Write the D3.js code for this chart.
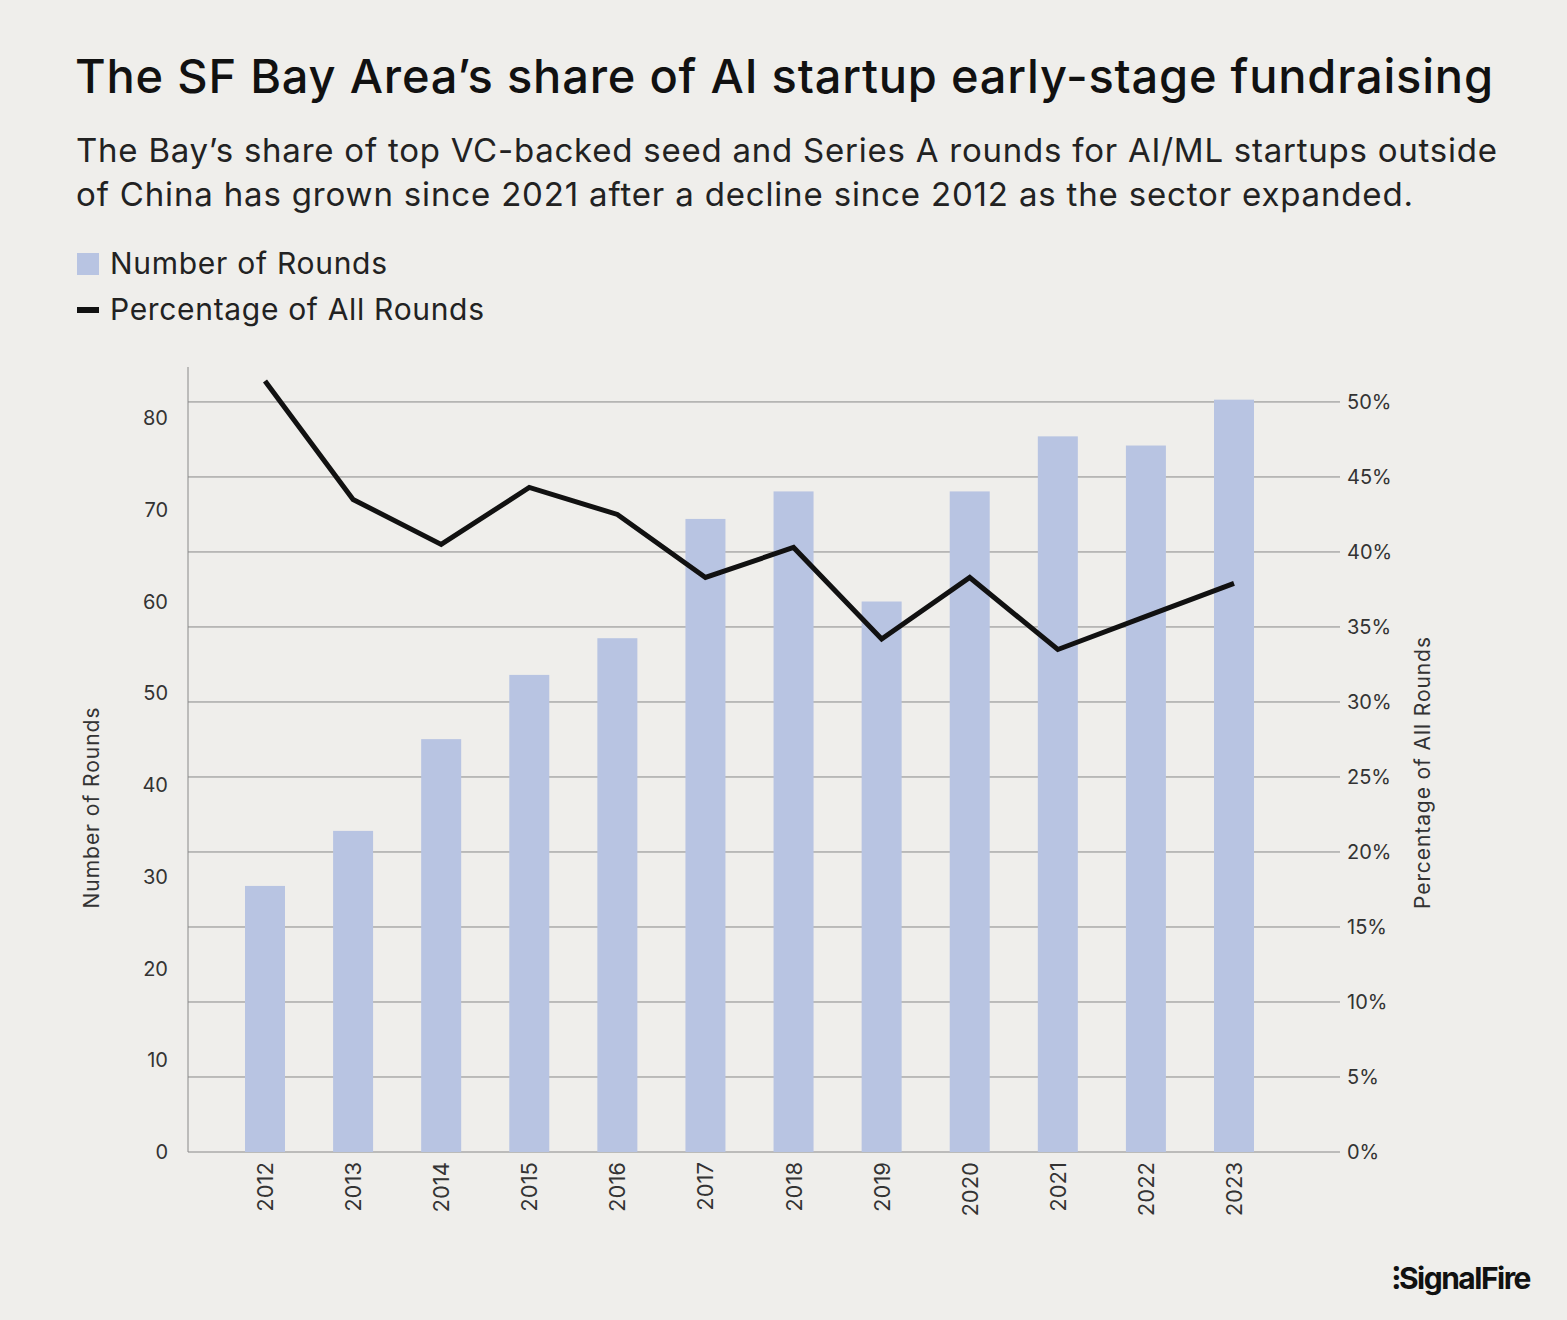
<!DOCTYPE html>
<html><head><meta charset="utf-8">
<script src="https://cdn.jsdelivr.net/npm/d3@7"></script>
<style>body{margin:0;background:#efeeeb;font-family:Inter,"Noto Sans",sans-serif}</style>
</head><body><svg id="c" width="1567" height="1320"></svg>
<script>
const years=["2012","2013","2014","2015","2016","2017","2018","2019","2020","2021","2022","2023"];
const rounds=[29,35,45,52,56,69,72,60,72,78,77,82];
const pct=[51.4,43.5,40.5,44.3,42.5,38.3,40.3,34.2,38.3,33.5,35.7,37.9];
const leftTicks=[0,10,20,30,40,50,60,70,80];
const rightTicks=[0,5,10,15,20,25,30,35,40,45,50];

const svg=d3.select("#c");
svg.append("rect").attr("width",1567).attr("height",1320).attr("fill","#efeeeb");
svg.append("text").attr("x",75).attr("y",93).attr("font-size",47).attr("font-weight",500).attr("fill","#111").attr("textLength",1418).text("The SF Bay Area’s share of AI startup early-stage fundraising");
svg.append("text").attr("x",76).attr("y",162).attr("font-size",33).attr("fill","#222").attr("textLength",1421).text("The Bay’s share of top VC-backed seed and Series A rounds for AI/ML startups outside");
svg.append("text").attr("x",76).attr("y",206).attr("font-size",33).attr("fill","#222").attr("textLength",1337).text("of China has grown since 2021 after a decline since 2012 as the sector expanded.");
svg.append("rect").attr("x",77).attr("y",253).attr("width",22).attr("height",22).attr("fill","#b8c4e2");
svg.append("text").attr("x",110).attr("y",274).attr("font-size",30).attr("fill","#222").attr("textLength",277).text("Number of Rounds");
svg.append("rect").attr("x",77).attr("y",307).attr("width",22).attr("height",6).attr("fill","#111");
svg.append("text").attr("x",110).attr("y",320).attr("font-size",30).attr("fill","#222").attr("textLength",374).text("Percentage of All Rounds");

const x0=188,x1=1340,yB=1152,yT=367,bw=40;
const x=d3.scalePoint().domain(years).range([265,1234]);
const yL=d3.scaleLinear().domain([0,85.56]).range([yB,yT]);
const yR=d3.scaleLinear().domain([0,52.33]).range([yB,yT]);

rightTicks.forEach(t=>{
  svg.append("line").attr("x1",x0).attr("x2",x1).attr("y1",yR(t)).attr("y2",yR(t)).attr("stroke","#888").attr("stroke-width",1);
  svg.append("text").attr("x",1347).attr("y",yR(t)+7).attr("font-size",20).attr("fill","#333").text(t+"%");
});
leftTicks.forEach(t=>{
  svg.append("text").attr("x",168).attr("y",yL(t)+7).attr("text-anchor","end").attr("font-size",20).attr("fill","#333").text(t);
});
svg.append("line").attr("x1",x0).attr("x2",x0).attr("y1",yT).attr("y2",yB).attr("stroke","#888");

svg.selectAll(".bar").data(years).enter().append("rect")
  .attr("x",d=>x(d)-bw/2).attr("width",bw)
  .attr("y",(d,i)=>yL(rounds[i])).attr("height",(d,i)=>yB-yL(rounds[i])).attr("fill","#b8c4e2");

const line=d3.line().x((d,i)=>x(years[i])).y(d=>yR(d));
svg.append("path").datum(pct).attr("d",line).attr("fill","none").attr("stroke","#111").attr("stroke-width",5).attr("stroke-linejoin","miter");

years.forEach(yr=>{
  svg.append("text").attr("transform",`translate(${x(yr)+8},1162) rotate(-90)`).attr("text-anchor","end").attr("font-size",22).attr("fill","#333").text(yr);
});
svg.append("text").attr("transform","translate(99,808) rotate(-90)").attr("text-anchor","middle").attr("font-size",21).attr("fill","#333").attr("textLength",201).text("Number of Rounds");
svg.append("text").attr("transform","translate(1430,773) rotate(-90)").attr("text-anchor","middle").attr("font-size",21).attr("fill","#333").attr("textLength",272).text("Percentage of All Rounds");
svg.append("text").attr("x",1530).attr("y",1289).attr("text-anchor","end").attr("font-size",30).attr("font-weight",700).attr("letter-spacing",-1.5).attr("fill","#111").text("⁝SignalFire");
</script></body></html>
